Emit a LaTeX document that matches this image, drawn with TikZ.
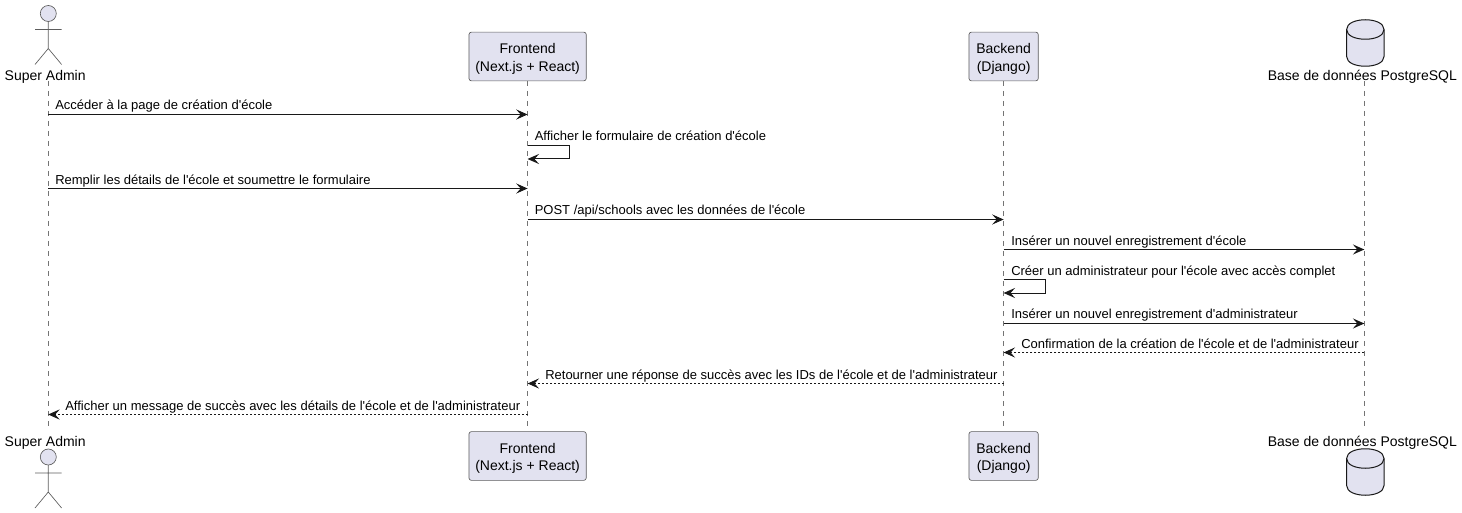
\documentclass[tikz,border=0pt]{standalone}
\usepackage{fontspec}
\setmainfont{Liberation Sans}[Ligatures=TeXOff]
\usetikzlibrary{arrows.meta}
\definecolor{boxfill}{HTML}{E2E2F0}
\definecolor{ink}{HTML}{181818}
\newcommand{\firstline}{\rule{0pt}{11.2pt}}
\tikzset{
  px/.style={x=0.75pt,y=-0.75pt},
  part/.style={draw=ink!70,line width=0.5pt,fill=boxfill,rounded corners=1.9pt,align=center,inner sep=0pt,
     minimum height=36.6pt,font=\fontsize{10.5}{13}\selectfont},
  plabel/.style={inner sep=0pt,font=\fontsize{10.5}{13}\selectfont,text=black},
  life/.style={draw=ink!60,line width=0.4pt,dash pattern=on 3.75pt off 3.75pt},
  msg/.style={draw=ink,line width=0.75pt,-{Stealth[length=8.6pt,width=7.6pt,inset=3.4pt]}},
  ret/.style={msg,dash pattern=on 1.5pt off 1.5pt},
  mtext/.style={anchor=base west,inner sep=0pt,font=\fontsize{9.75}{12}\selectfont,text=black},
  shape line/.style={draw=ink!70,line width=0.5pt,fill=boxfill},
}
\newcommand{\actorfig}[2]{% x, head centre y
  \draw[shape line] (#1,#2) circle[radius=6pt];
  \draw[draw=ink!70,line width=0.5pt] (#1,#2+8) -- (#1,#2+35)
     (#1-13.3,#2+16) -- (#1+13.3,#2+16)
     (#1-13.3,#2+51) -- (#1,#2+35) -- (#1+13.3,#2+51);
}
\newcommand{\dbfig}[2]{% x, top y
  \draw[draw=ink,fill=boxfill,line width=0.75pt] (#1-18.7,#2+10) .. controls (#1-18.7,#2-3) and (#1+18.7,#2-3) .. (#1+18.7,#2+10)
     -- (#1+18.7,#2+37) .. controls (#1+18.7,#2+50) and (#1-18.7,#2+50) .. (#1-18.7,#2+37) -- cycle;
  \draw[draw=ink,line width=0.75pt] (#1-18.7,#2+10) .. controls (#1-18.7,#2+23) and (#1+18.7,#2+23) .. (#1+18.7,#2+10);
}
\begin{document}
\begin{tikzpicture}[px]
\useasboundingbox (0,0) rectangle (1462,513);
% lifeline positions
\coordinate (sa) at (48.2,0);
\coordinate (db) at (1364.3,0);
\coordinate (lifetop) at (0,81);
\coordinate (lifebot) at (0,427);
% participants
\node[part,minimum width=88pt] (fe) at (527.6,56.5) {\firstline Frontend\\(Next.js + React)};
\node[part,minimum width=52pt] (be) at (1003.6,56.5) {\firstline Backend\\(Django)};
\node[part,minimum width=88pt] (feb) at (527.6,456) {\firstline Frontend\\(Next.js + React)};
\node[part,minimum width=52pt] (beb) at (1003.6,456) {\firstline Backend\\(Django)};
\node[plabel] (salabel) at (45.2,76.8) {Super Admin};
\node[plabel] (salabelb) at (45.2,442.8) {Super Admin};
\node[plabel] (dblabel) at (1362.3,76.8) {Base de données PostgreSQL};
\node[plabel] (dblabelb) at (1362.3,442.8) {Base de données PostgreSQL};
\actorfig{48.3}{13.5}
\actorfig{48.3}{457}
\dbfig{1365.3}{19.5}
\dbfig{1365.3}{448.5}
% lifelines
\draw[life] (sa |- lifetop) -- (sa |- lifebot);
\draw[life] (fe |- lifetop) -- (fe |- lifebot);
\draw[life] (be |- lifetop) -- (be |- lifebot);
\draw[life] (db |- lifetop) -- (db |- lifebot);
% rows
\coordinate (r1) at (0,114.5);
\coordinate (r2a) at (0,145.5);
\coordinate (r2b) at (0,159);
\coordinate (r3) at (0,188.5);
\coordinate (r4) at (0,219.5);
\coordinate (r5) at (0,249.5);
\coordinate (r6a) at (0,279.5);
\coordinate (r6b) at (0,293);
\coordinate (r7) at (0,323.5);
\coordinate (r8) at (0,352.5);
\coordinate (r9) at (0,383.5);
\coordinate (r10) at (0,414.5);
\coordinate (loopf) at (569.5,0);
\coordinate (loopb) at (1045.5,0);
% messages
\draw[msg] (sa |- r1) -- (fe |- r1);
\draw[msg] (fe |- r2a) -- (loopf |- r2a) -- (loopf |- r2b) -- (fe |- r2b);
\draw[msg] (sa |- r3) -- (fe |- r3);
\draw[msg] (fe |- r4) -- (be |- r4);
\draw[msg] (be |- r5) -- (db |- r5);
\draw[msg] (be |- r6a) -- (loopb |- r6a) -- (loopb |- r6b) -- (be |- r6b);
\draw[msg] (be |- r7) -- (db |- r7);
\draw[ret] (db |- r8) -- (be |- r8);
\draw[ret] (be |- r9) -- (fe |- r9);
\draw[ret] (fe |- r10) -- (sa |- r10);
% message labels
\node[mtext] (m1) at (55,110) {Accéder à la page de création d'école};
\node[mtext] (m2) at (534.5,140.5) {Afficher le formulaire de création d'école};
\node[mtext] (m3) at (55,184.3) {Remplir les détails de l'école et soumettre le formulaire};
\node[mtext] (m4) at (534.5,214.5) {POST /api/schools avec les données de l'école};
\node[mtext] (m5) at (1011,245) {Insérer un nouvel enregistrement d'école};
\node[mtext] (m6) at (1011,275.3) {Créer un administrateur pour l'école avec accès complet};
\node[mtext] (m7) at (1011,318.5) {Insérer un nouvel enregistrement d'administrateur};
\node[mtext] (m8) at (1021,348.5) {Confirmation de la création de l'école et de l'administrateur};
\node[mtext] (m9) at (545,379) {Retourner une réponse de succès avec les IDs de l'école et de l'administrateur};
\node[mtext] (m10) at (65,410) {Afficher un message de succès avec les détails de l'école et de l'administrateur};
\end{tikzpicture}
\end{document}
